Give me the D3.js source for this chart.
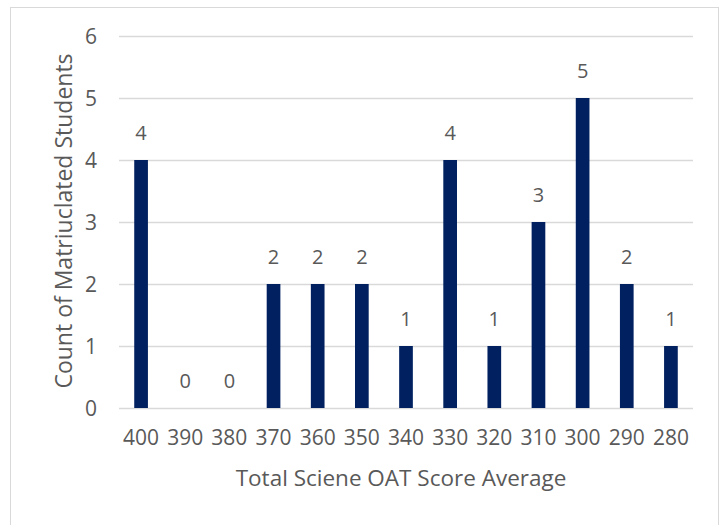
<!DOCTYPE html>
<html>
<head>
<meta charset="utf-8">
<script src="https://cdn.jsdelivr.net/npm/d3@7"></script>
<style>
  body { margin: 0; background: #fff; }
  svg text { font-family: "Open Sans", "Liberation Sans", sans-serif; fill: #595959; }
</style>
</head>
<body>
<svg id="chart" width="726" height="525"></svg>
<script>
// Scores (x categories) and counts
var scores = ["400", "390", "380", "370", "360", "350", "340", "330", "320", "310", "300", "290", "280"];
var counts = [4, 0, 0, 2, 2, 2, 1, 4, 1, 3, 5, 2, 1];
var yTicks = [0, 1, 2, 3, 4, 5, 6];

var svg = d3.select("#chart");
var margin = {left: 119, right: 33, top: 36, bottom: 117};
var w = 726 - margin.left - margin.right,
    h = 525 - margin.top - margin.bottom;

// chart border
svg.append("rect")
    .attr("x", 10.5).attr("y", 7.5)
    .attr("width", 708).attr("height", 530)
    .style("fill", "none").style("stroke", "#d9d9d9").style("stroke-width", 1);

var g = svg.append("g").attr("transform", "translate(" + margin.left + "," + margin.top + ")");

var x = d3.scaleBand().domain(scores).range([0, w]).paddingInner(0.69).paddingOuter(0.345);
var y = d3.scaleLinear().domain([0, 6]).range([h, 0]);

// gridlines
g.selectAll(".grid")
    .data(yTicks)
  .enter().append("line")
    .attr("class", "grid")
    .attr("x1", 0).attr("x2", w)
    .attr("y1", function(d) { return Math.round(y(d)) + 0.5; })
    .attr("y2", function(d) { return Math.round(y(d)) + 0.5; })
    .style("stroke", "#d9d9d9").style("stroke-width", 1.5);

// y tick labels
g.selectAll(".ytick")
    .data(yTicks)
  .enter().append("text")
    .attr("class", "ytick")
    .attr("x", -22)
    .attr("y", function(d) { return y(d); })
    .attr("dy", ".36em")
    .attr("text-anchor", "end")
    .style("font-size", "21px")
    .text(function(d) { return d; });

// bars
g.selectAll(".bar")
    .data(counts)
  .enter().append("rect")
    .attr("class", "bar")
    .attr("x", function(d, i) { return x(scores[i]); })
    .attr("width", x.bandwidth())
    .attr("y", function(d) { return y(d); })
    .attr("height", function(d) { return h - y(d); })
    .style("fill", "#002060");

// data labels
g.selectAll(".lbl")
    .data(counts)
  .enter().append("text")
    .attr("class", "lbl")
    .attr("x", function(d, i) { return x(scores[i]) + x.bandwidth() / 2; })
    .attr("y", function(d) { return y(d) - 20; })
    .attr("text-anchor", "middle")
    .style("font-size", "20px")
    .text(function(d) { return d; });

// x tick labels
g.selectAll(".xtick")
    .data(scores)
  .enter().append("text")
    .attr("class", "xtick")
    .attr("x", function(d) { return x(d) + x.bandwidth() / 2; })
    .attr("y", h + 37)
    .attr("text-anchor", "middle")
    .style("font-size", "21px")
    .text(function(d) { return d; });

// axis titles
svg.append("text")
    .attr("x", 401).attr("y", 486)
    .attr("text-anchor", "middle")
    .style("font-size", "22.5px")
    .text("Total Sciene OAT Score Average");

svg.append("text")
    .attr("transform", "translate(72,221)rotate(-90)")
    .attr("text-anchor", "middle")
    .style("font-size", "23px")
    .text("Count of Matriuclated Students");
</script>
</body>
</html>
